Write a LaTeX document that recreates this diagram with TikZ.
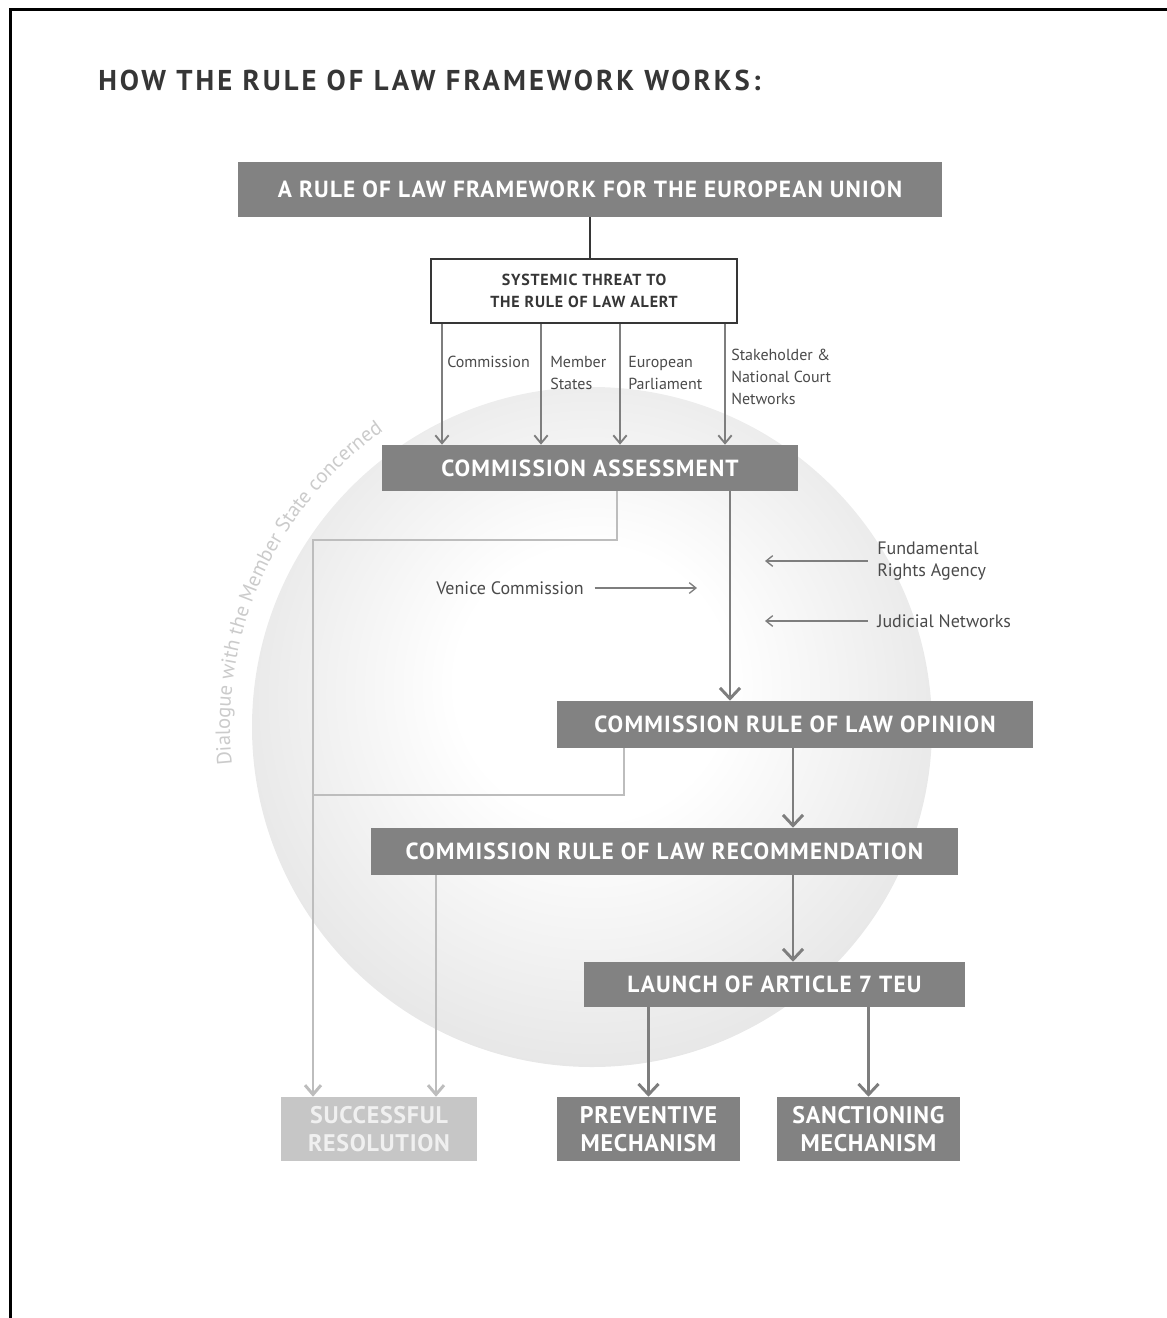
\documentclass[tikz,border=0pt]{standalone}
\usepackage{fontspec}
\setmainfont{PT Sans}
\usetikzlibrary{positioning, arrows.meta, decorations.text}
\definecolor{boxGray}{HTML}{828282}
\definecolor{paleBox}{HTML}{C6C6C6}
\definecolor{lightLine}{HTML}{BDBDBD}
\definecolor{arrowGray}{HTML}{7E7E7E}
\definecolor{textDark}{HTML}{363636}
\definecolor{textMid}{HTML}{4A4A4A}
\definecolor{discEdge}{HTML}{E7E7E7}
\definecolor{arcText}{HTML}{CBCBCB}
\pgfdeclareradialshading{discshade}{\pgfpoint{0bp}{4bp}}{color(0bp)=(white); color(10bp)=(white); color(27bp)=(discEdge); color(50bp)=(discEdge)}

\tikzset{
  stagebox/.style={fill=boxGray, text=white, inner sep=0pt, align=center,
    font=\fontsize{17.5}{20}\selectfont\bfseries\addfontfeature{LetterSpace=5}},
  endbox/.style={stagebox, minimum width=137.25pt, minimum height=48pt,
    font=\fontsize{18}{20.5}\selectfont\bfseries\addfontfeature{LetterSpace=3}},
  sidelabel/.style={inner sep=0pt, align=left, text=textMid,
    font=\fontsize{13.5}{16.5}\selectfont},
  feedlabel/.style={inner sep=0pt, align=left, anchor=north west, text=textMid},
  darkarrow/.style={draw=arrowGray, line width=2.2pt,
    -{Straight Barb[length=8pt, width=15pt]}},
  lightarrow/.style={draw=lightLine, line width=2.2pt,
    -{Straight Barb[length=7pt, width=12pt]}},
  thinarrow/.style={draw=arrowGray, line width=1.4pt,
    -{Straight Barb[length=6pt, width=10pt]}},
  sidearrow/.style={draw=arrowGray, line width=1pt,
    -{Straight Barb[length=5pt, width=8pt]}},
}

\begin{document}
\begin{tikzpicture}[x=0.75pt, y=-0.75pt, font=\fontsize{12}{16.5}\selectfont]
  \useasboundingbox (0,0) rectangle (1167,1318);
  % frame and heading
  \draw[line width=2.25pt] (10,1318) -- (10,9) -- (1167,9);
  \node[anchor=base west, inner sep=0pt, text=textDark,
    font=\fontsize{21.5}{24}\selectfont\bfseries\addfontfeature{LetterSpace=10.5}]
    (heading) at (98,90) {HOW THE RULE OF LAW FRAMEWORK WORKS:};

  % shaded disc with the dialogue text round it
  \path[shading=discshade] (592,727) circle[radius=255pt];
  \path[decorate, decoration={text along path,
      text={|\fontsize{15.5}{18}\selectfont\color{arcText}|Dialogue with the Member State concerned}}]
    (592,727) ++(186:271.5pt) arc[start angle=186, end angle=118, radius=271.5pt];

  % stages
  \node[stagebox, minimum width=528pt, minimum height=41.25pt] (eu) at (590,189.5)
    {A RULE OF LAW FRAMEWORK FOR THE EUROPEAN UNION};
  \node[draw=textDark, line width=1.5pt, fill=white, text=textDark, align=center,
    minimum width=229.5pt, minimum height=48pt, inner sep=0pt,
    font=\fontsize{12}{16.5}\selectfont\bfseries\addfontfeature{LetterSpace=5}] (alert) at (584,291)
    {SYSTEMIC THREAT TO\\THE RULE OF LAW ALERT};
  \node[stagebox, minimum width=312pt, minimum height=34.5pt] (assess) at (590,468)
    {COMMISSION ASSESSMENT};
  \node[stagebox, minimum width=357pt, minimum height=35.25pt] (opinion) at (795,724.5)
    {COMMISSION RULE OF LAW OPINION};
  \node[stagebox, minimum width=440.25pt, minimum height=35.25pt] (recomm) at (664.5,851.5)
    {COMMISSION RULE OF LAW RECOMMENDATION};
  \node[stagebox, minimum width=285.75pt, minimum height=33.75pt] (launch) at (774.5,984.5)
    {LAUNCH OF ARTICLE 7 TEU};
  \node[endbox, fill=paleBox, text=white!94!black, minimum width=147pt] (success) at (379,1129)
    {SUCCESSFUL\\RESOLUTION};
  \node[endbox] (prevent) at (648.5,1129) {PREVENTIVE\\MECHANISM};
  \node[endbox] (sanction) at (868.5,1129) {SANCTIONING\\MECHANISM};

  % alert feeds
  \draw[draw=textDark, line width=1.4pt] (eu.south) -- (eu.south |- alert.north);
  \foreach \xa in {442,541,620,725}
    \draw[thinarrow] (\xa,0 |- alert.south) -- (\xa,0 |- assess.north);
  \node[feedlabel] (fcom) at (447,356) {Commission};
  \node[feedlabel] (fms) at (550,356) {Member\\States};
  \node[feedlabel] (fep) at (628,356) {European\\Parliament};
  \node[feedlabel] (fsn) at (731,349) {Stakeholder \&\\National Court\\Networks};

  % outside opinions
  \node[sidelabel, anchor=east] (venice) at (584,588) {Venice Commission};
  \node[sidelabel, anchor=west] (fra) at (877,561) {Fundamental\\Rights Agency};
  \node[sidelabel, anchor=west] (judic) at (877,621) {Judicial Networks};
  \coordinate (vtip) at (697,588);
  \coordinate (ftip) at (765,561);
  \coordinate (jtip) at (765,621);
  \draw[sidearrow] ([xshift=8pt]venice.east) -- (vtip);
  \draw[sidearrow] ([xshift=-7pt]fra.west) -- (ftip);
  \draw[sidearrow] ([xshift=-7pt]judic.west) -- (jtip);

  % way to a resolution
  \draw[lightarrow] (617,0 |- assess.south) -- (617,540) -| (313,0 |- success.north);
  \draw[draw=lightLine, line width=2.2pt] (624,0 |- opinion.south) -- (624,795) -- (313,795);
  \draw[lightarrow] (436,0 |- recomm.south) -- (436,0 |- success.north);

  % main line
  \draw[darkarrow] (730,0 |- assess.south) -- (730,0 |- opinion.north);
  \draw[darkarrow] (793,0 |- opinion.south) -- (793,0 |- recomm.north);
  \draw[darkarrow] (793,0 |- recomm.south) -- (793,0 |- launch.north);
  \draw[darkarrow] (prevent.north |- launch.south) -- (prevent.north);
  \draw[darkarrow] (sanction.north |- launch.south) -- (sanction.north);
\end{tikzpicture}
\end{document}
